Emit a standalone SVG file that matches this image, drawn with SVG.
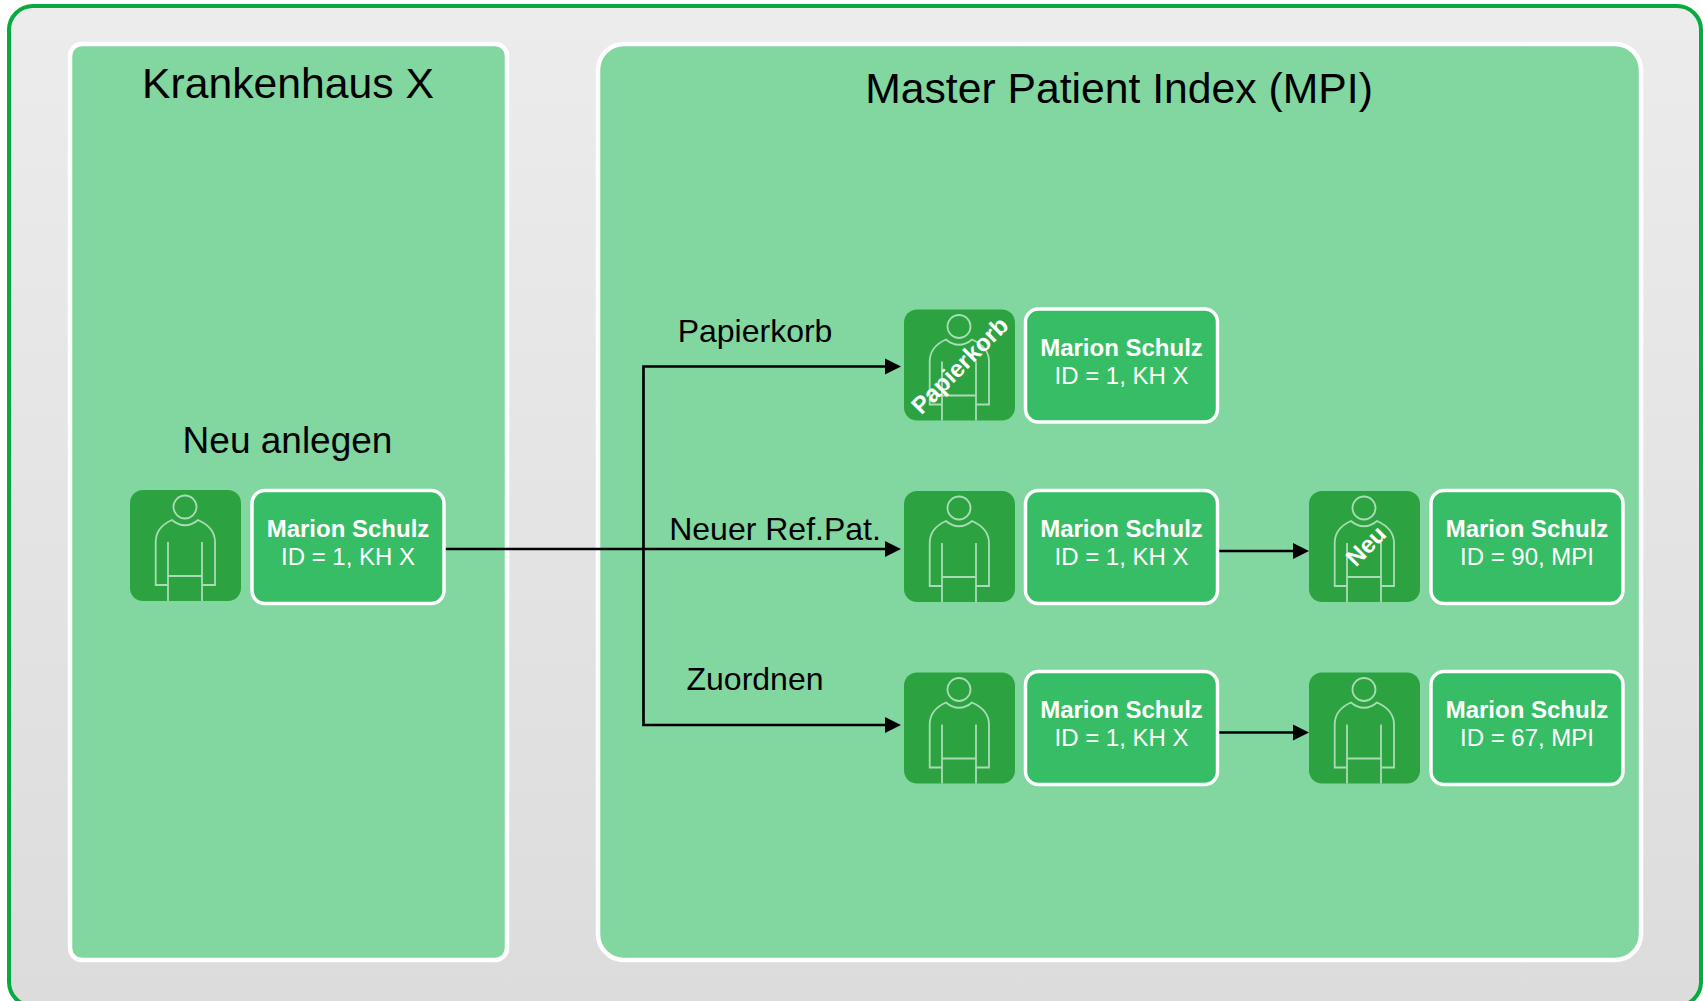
<svg xmlns="http://www.w3.org/2000/svg" width="1703" height="1001" viewBox="0 0 1703 1001">
<defs>
<linearGradient id="bg" x1="0" y1="0" x2="0" y2="1"><stop offset="0" stop-color="#ececec"/><stop offset="1" stop-color="#dcdcdc"/></linearGradient>
<g id="person">
<rect class="tile" x="0" y="0" width="111" height="111" rx="13"/>
<g class="fig"><circle cx="55" cy="17" r="11.5"/>
<path d="M38,95 H25.7 V52 C25.7,41 33,34 42,30 C50,37 60,37 68,30 C77,34 85,41 85,52 V95 H72"/>
<path d="M38,52 V111 M72,52 V111 M38,86 H72"/></g>
</g>
<path id="head" d="M-16,-8 L0,0 L-16,8 Z" fill="#000"/>
</defs>
<style>
text{font-family:"Liberation Sans",Arial,sans-serif;text-anchor:middle}
.tile{fill:#2ca340}
.fig{fill:none;stroke:#a9dcb5;stroke-width:1.8}
.card{fill:#36bd66;stroke:#fff;stroke-width:3.500}
.panel{fill:#82d6a0;stroke:#fff;stroke-width:4.500}
.name{font-size:24px;font-weight:bold;fill:#fff}
.id{font-size:24px;fill:#fff}
.tag{font-size:24px;font-weight:bold;fill:#fff}
.title{font-size:42.700px;fill:#000}
.label{font-size:32px;fill:#000}
.big{font-size:37px}
.conn{fill:none;stroke:#000;stroke-width:2.700}
</style>
<g id="background"><rect x="9" y="6" width="1692" height="1000" rx="24" fill="url(#bg)" stroke="#05ab3e" stroke-width="4"/></g>
<g id="panel-krankenhaus"><rect class="panel" x="70" y="44" width="437" height="916" rx="12"/><text class="title" x="288" y="98">Krankenhaus X</text><text class="label big" x="287.500" y="453">Neu anlegen</text></g>
<g id="panel-mpi"><rect class="panel" x="598" y="44" width="1043" height="916" rx="26"/><text class="title" x="1119" y="103">Master Patient Index (MPI)</text></g>
<g id="connectors">
<path class="conn" d="M445,549 H886"/>
<use href="#head" x="901" y="549"/>
<path class="conn" d="M886,366.500 H643.500 V725 H886"/>
<use href="#head" x="901" y="366.500"/>
<use href="#head" x="901" y="725"/>
<path class="conn" d="M1219,551 H1295"/>
<use href="#head" x="1309" y="551"/>
<path class="conn" d="M1219,732.500 H1295"/>
<use href="#head" x="1309" y="732.500"/>
</g>
<g id="label-papierkorb"><text class="label" x="755" y="342">Papierkorb</text></g>
<g id="label-neuer"><text class="label" x="775" y="540">Neuer Ref.Pat.</text></g>
<g id="label-zuordnen"><text class="label" x="755" y="690">Zuordnen</text></g>
<g id="node-source"><use href="#person" x="130" y="490"/><rect class="card" x="252" y="490.500" width="192" height="113" rx="13"/><text class="name" x="348" y="536.500">Marion Schulz</text><text class="id" x="348" y="565">ID = 1, KH X</text></g>
<g id="node-papierkorb"><use href="#person" x="904" y="309.500"/><text class="tag" transform="translate(960 365.500) rotate(-45)" y="8">Papierkorb</text><rect class="card" x="1025.500" y="309" width="192" height="113" rx="13"/><text class="name" x="1121.500" y="355.500">Marion Schulz</text><text class="id" x="1121.500" y="384">ID = 1, KH X</text></g>
<g id="node-ref"><use href="#person" x="904" y="491"/><rect class="card" x="1025.500" y="490.500" width="192" height="113" rx="13"/><text class="name" x="1121.500" y="536.500">Marion Schulz</text><text class="id" x="1121.500" y="565">ID = 1, KH X</text></g>
<g id="node-neu"><use href="#person" x="1309" y="491"/><text class="tag" transform="translate(1366 546) rotate(-45)" y="8">Neu</text><rect class="card" x="1431" y="490.500" width="192" height="113" rx="13"/><text class="name" x="1527" y="536.500">Marion Schulz</text><text class="id" x="1527" y="565">ID = 90, MPI</text></g>
<g id="node-zuordnen"><use href="#person" x="904" y="672.500"/><rect class="card" x="1025.500" y="671.500" width="192" height="113" rx="13"/><text class="name" x="1121.500" y="717.500">Marion Schulz</text><text class="id" x="1121.500" y="746">ID = 1, KH X</text></g>
<g id="node-67"><use href="#person" x="1309" y="672.500"/><rect class="card" x="1431" y="671.500" width="192" height="113" rx="13"/><text class="name" x="1527" y="717.500">Marion Schulz</text><text class="id" x="1527" y="746">ID = 67, MPI</text></g>
</svg>
